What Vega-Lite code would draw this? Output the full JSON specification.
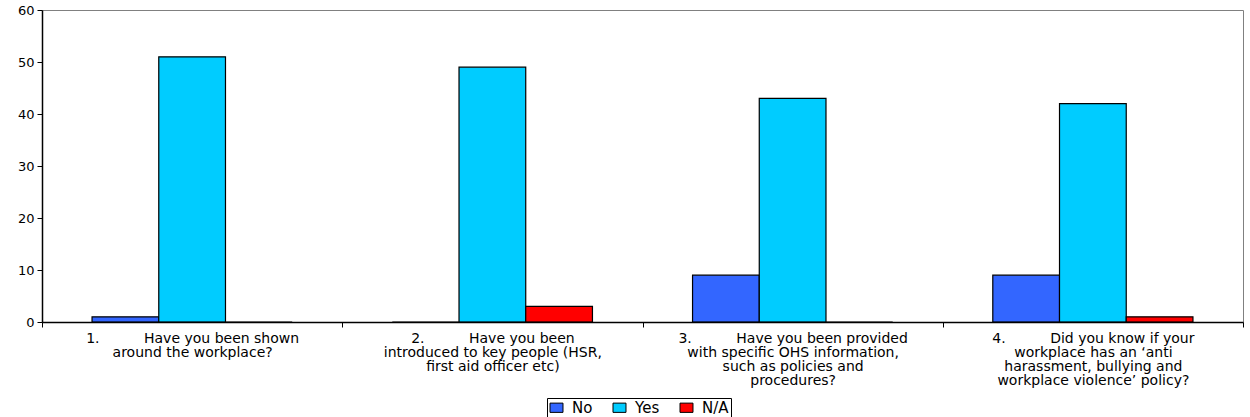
{
  "$schema": "https://vega.github.io/schema/vega-lite/v6.json",
  "width": 1201,
  "height": 312,
  "autosize": {"type": "none"},
  "padding": {"left": 42, "top": 10, "right": 7, "bottom": 95},
  "background": "white",
  "data": {
    "values": [
      {"question": "1.\u00a0\u00a0\u00a0\u00a0\u00a0\u00a0\u00a0\u00a0\u00a0\u00a0Have you been shown|around the workplace?", "response": "No", "count": 1},
      {"question": "1.\u00a0\u00a0\u00a0\u00a0\u00a0\u00a0\u00a0\u00a0\u00a0\u00a0Have you been shown|around the workplace?", "response": "Yes", "count": 51},
      {"question": "1.\u00a0\u00a0\u00a0\u00a0\u00a0\u00a0\u00a0\u00a0\u00a0\u00a0Have you been shown|around the workplace?", "response": "N/A", "count": 0},
      {"question": "2.\u00a0\u00a0\u00a0\u00a0\u00a0\u00a0\u00a0\u00a0\u00a0\u00a0Have you been|introduced to key people (HSR,|first aid officer etc)", "response": "No", "count": 0},
      {"question": "2.\u00a0\u00a0\u00a0\u00a0\u00a0\u00a0\u00a0\u00a0\u00a0\u00a0Have you been|introduced to key people (HSR,|first aid officer etc)", "response": "Yes", "count": 49},
      {"question": "2.\u00a0\u00a0\u00a0\u00a0\u00a0\u00a0\u00a0\u00a0\u00a0\u00a0Have you been|introduced to key people (HSR,|first aid officer etc)", "response": "N/A", "count": 3},
      {"question": "3.\u00a0\u00a0\u00a0\u00a0\u00a0\u00a0\u00a0\u00a0\u00a0\u00a0Have you been provided|with specific OHS information,|such as policies and|procedures?", "response": "No", "count": 9},
      {"question": "3.\u00a0\u00a0\u00a0\u00a0\u00a0\u00a0\u00a0\u00a0\u00a0\u00a0Have you been provided|with specific OHS information,|such as policies and|procedures?", "response": "Yes", "count": 43},
      {"question": "3.\u00a0\u00a0\u00a0\u00a0\u00a0\u00a0\u00a0\u00a0\u00a0\u00a0Have you been provided|with specific OHS information,|such as policies and|procedures?", "response": "N/A", "count": 0},
      {"question": "4.\u00a0\u00a0\u00a0\u00a0\u00a0\u00a0\u00a0\u00a0\u00a0\u00a0Did you know if your|workplace has an \u2018anti|harassment, bullying and|workplace violence\u2019 policy?", "response": "No", "count": 9},
      {"question": "4.\u00a0\u00a0\u00a0\u00a0\u00a0\u00a0\u00a0\u00a0\u00a0\u00a0Did you know if your|workplace has an \u2018anti|harassment, bullying and|workplace violence\u2019 policy?", "response": "Yes", "count": 42},
      {"question": "4.\u00a0\u00a0\u00a0\u00a0\u00a0\u00a0\u00a0\u00a0\u00a0\u00a0Did you know if your|workplace has an \u2018anti|harassment, bullying and|workplace violence\u2019 policy?", "response": "N/A", "count": 1}
    ]
  },
  "mark": {"type": "bar", "stroke": "black", "strokeWidth": 1.2},
  "encoding": {
    "x": {
      "field": "question",
      "type": "nominal",
      "sort": null,
      "scale": {"paddingInner": 0, "paddingOuter": 0},
      "axis": {
        "title": null,
        "zindex": 1,
        "labelExpr": "split(datum.label, '|')",
        "labelAngle": 0,
        "labelAlign": "center",
        "labelBaseline": "top",
        "labelPadding": 4,
        "labelFont": "DejaVu Sans",
        "labelFontSize": 14,
        "labelLineHeight": 14,
        "labelColor": "black",
        "labelLimit": 400,
        "tickBand": "extent",
        "tickSize": 5,
        "tickColor": "black",
        "domainColor": "black",
        "domainWidth": 1.5,
        "grid": false
      }
    },
    "xOffset": {
      "field": "response",
      "type": "nominal",
      "sort": ["No", "Yes", "N/A"],
      "scale": {"domain": ["No", "Yes", "N/A"], "paddingInner": 0, "paddingOuter": 0.75}
    },
    "y": {
      "field": "count",
      "type": "quantitative",
      "scale": {"domain": [0, 60], "nice": false},
      "axis": {
        "title": null,
        "zindex": 1,
        "values": [0, 10, 20, 30, 40, 50, 60],
        "grid": false,
        "labelFont": "DejaVu Sans",
        "labelFontSize": 13,
        "labelColor": "black",
        "labelPadding": 3,
        "tickSize": 5,
        "tickColor": "black",
        "domainColor": "black",
        "domainWidth": 1.5
      }
    },
    "color": {
      "field": "response",
      "type": "nominal",
      "sort": ["No", "Yes", "N/A"],
      "scale": {"domain": ["No", "Yes", "N/A"], "range": ["#3366FF", "#00CCFF", "#FF0000"]},
      "legend": {
        "title": null,
        "orient": "none",
        "legendX": 505,
        "legendY": 388,
        "direction": "horizontal",
        "strokeColor": "black",
        "fillColor": "white",
        "padding": 2,
        "symbolType": "M-1.4,-1H1.4V1H-1.4Z",
        "symbolSize": 86,
        "symbolStrokeColor": "black",
        "symbolStrokeWidth": 1,
        "symbolOpacity": 1,
        "labelFont": "DejaVu Sans",
        "labelFontSize": 15,
        "labelColor": "black",
        "columnPadding": 18,
        "labelOffset": 8
      }
    }
  },
  "config": {"view": {"stroke": "#808080", "strokeWidth": 1}}
}
